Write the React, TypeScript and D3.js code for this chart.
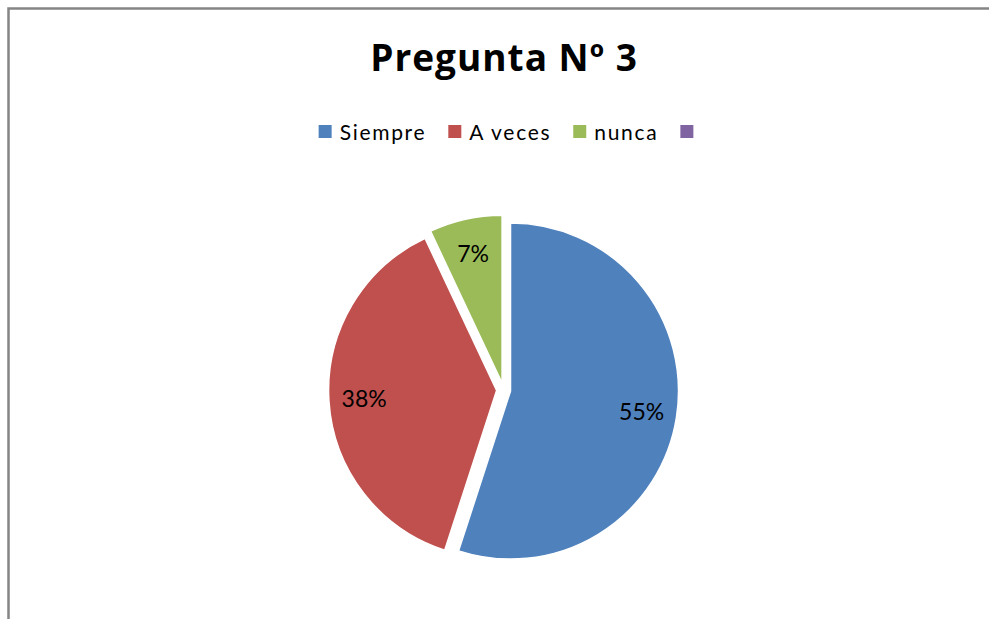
import React, { useEffect, useRef } from 'react';
import * as d3 from 'd3';

// chart data
const categories = ['Siempre', 'A veces', 'nunca', ''];
const values = [55, 38, 7, 0];
const colors = ['#4F81BD', '#C0504D', '#9BBB59', '#8064A2'];
const title = 'Pregunta Nº 3';

const FONT = 'Lato, "Open Sans", sans-serif';

export default function App() {
    const svgRef = useRef<SVGSVGElement | null>(null);

    useEffect(() => {
        if (!svgRef.current) return;
        const svg = d3.select(svgRef.current);
        svg.selectAll('*').remove();

        // chart area border (only top and left visible in the frame)
        svg.append('rect')
            .attr('x', 8.5)
            .attr('y', 8.5)
            .attr('width', 1000)
            .attr('height', 700)
            .attr('fill', '#fff')
            .attr('stroke', '#858585')
            .attr('stroke-width', 2.5);

        const centerX = 504;

        // title
        svg.append('text')
            .attr('x', centerX)
            .attr('y', 71)
            .attr('text-anchor', 'middle')
            .style('font-family', '"Open Sans", sans-serif')
            .style('font-size', '37px')
            .style('font-weight', 'bold')
            .style('letter-spacing', '1px')
            .style('fill', '#000')
            .text(title);

        // legend
        const box = 13;
        const legend = svg.append('g');
        let x = 0;
        categories.forEach((c, i) => {
            const item = legend.append('g').attr('transform', `translate(${x},0)`);
            item.append('rect')
                .attr('x', 0)
                .attr('y', 125)
                .attr('width', box)
                .attr('height', box)
                .attr('fill', colors[i]);
            const t = item.append('text')
                .attr('x', box + 8)
                .attr('y', 140)
                .style('font-family', FONT)
                .style('font-size', '21px')
                .style('letter-spacing', '1.7px')
                .style('fill', '#000')
                .text(c);
            const w = c ? (t.node() as SVGTextElement).getComputedTextLength() + 8 : 0;
            x += box + w + (i < categories.length - 1 ? 22 : 0);
        });
        legend.attr('transform', `translate(${506 - x / 2},0)`);

        // pie
        const cx = 503.6;
        const cy = 390;
        const radius = 168;
        const explode = 7;
        const data = categories.map((c, i) => ({ name: c, value: values[i], color: colors[i] }));
        const pie = d3.pie<any>().sort(null).value(d => d.value);
        const arcs = pie(data).filter(d => d.value > 0);
        const arc = d3.arc<any>().innerRadius(0).outerRadius(radius);
        const labelArc = d3.arc<any>().innerRadius(radius * 0.79).outerRadius(radius * 0.79);
        const total = d3.sum(values);

        const g = svg.append('g').attr('transform', `translate(${cx},${cy})`);
        const slices = g.selectAll('.slice')
            .data(arcs)
            .join('g')
            .attr('class', 'slice')
            .attr('transform', d => {
                const mid = (d.startAngle + d.endAngle) / 2;
                return `translate(${explode * Math.sin(mid)},${-explode * Math.cos(mid)})`;
            });

        slices.append('path')
            .attr('d', arc)
            .attr('fill', d => d.data.color)
            .attr('stroke', '#fff')
            .attr('stroke-width', 1.5);

        slices.append('text')
            .attr('transform', d => `translate(${labelArc.centroid(d)})`)
            .attr('text-anchor', 'middle')
            .attr('dy', '0.36em')
            .style('font-family', FONT)
            .style('font-size', '23px')
            .style('fill', '#000')
            .text(d => `${Math.round((d.value / total) * 100)}%`);

        return () => {
            svg.selectAll('*').remove();
        };
    }, []);

    return (
        <svg
            ref={svgRef}
            width={989}
            height={619}
            style={{ position: 'fixed', left: 0, top: 0, background: '#fff' }}
        />
    );
}
